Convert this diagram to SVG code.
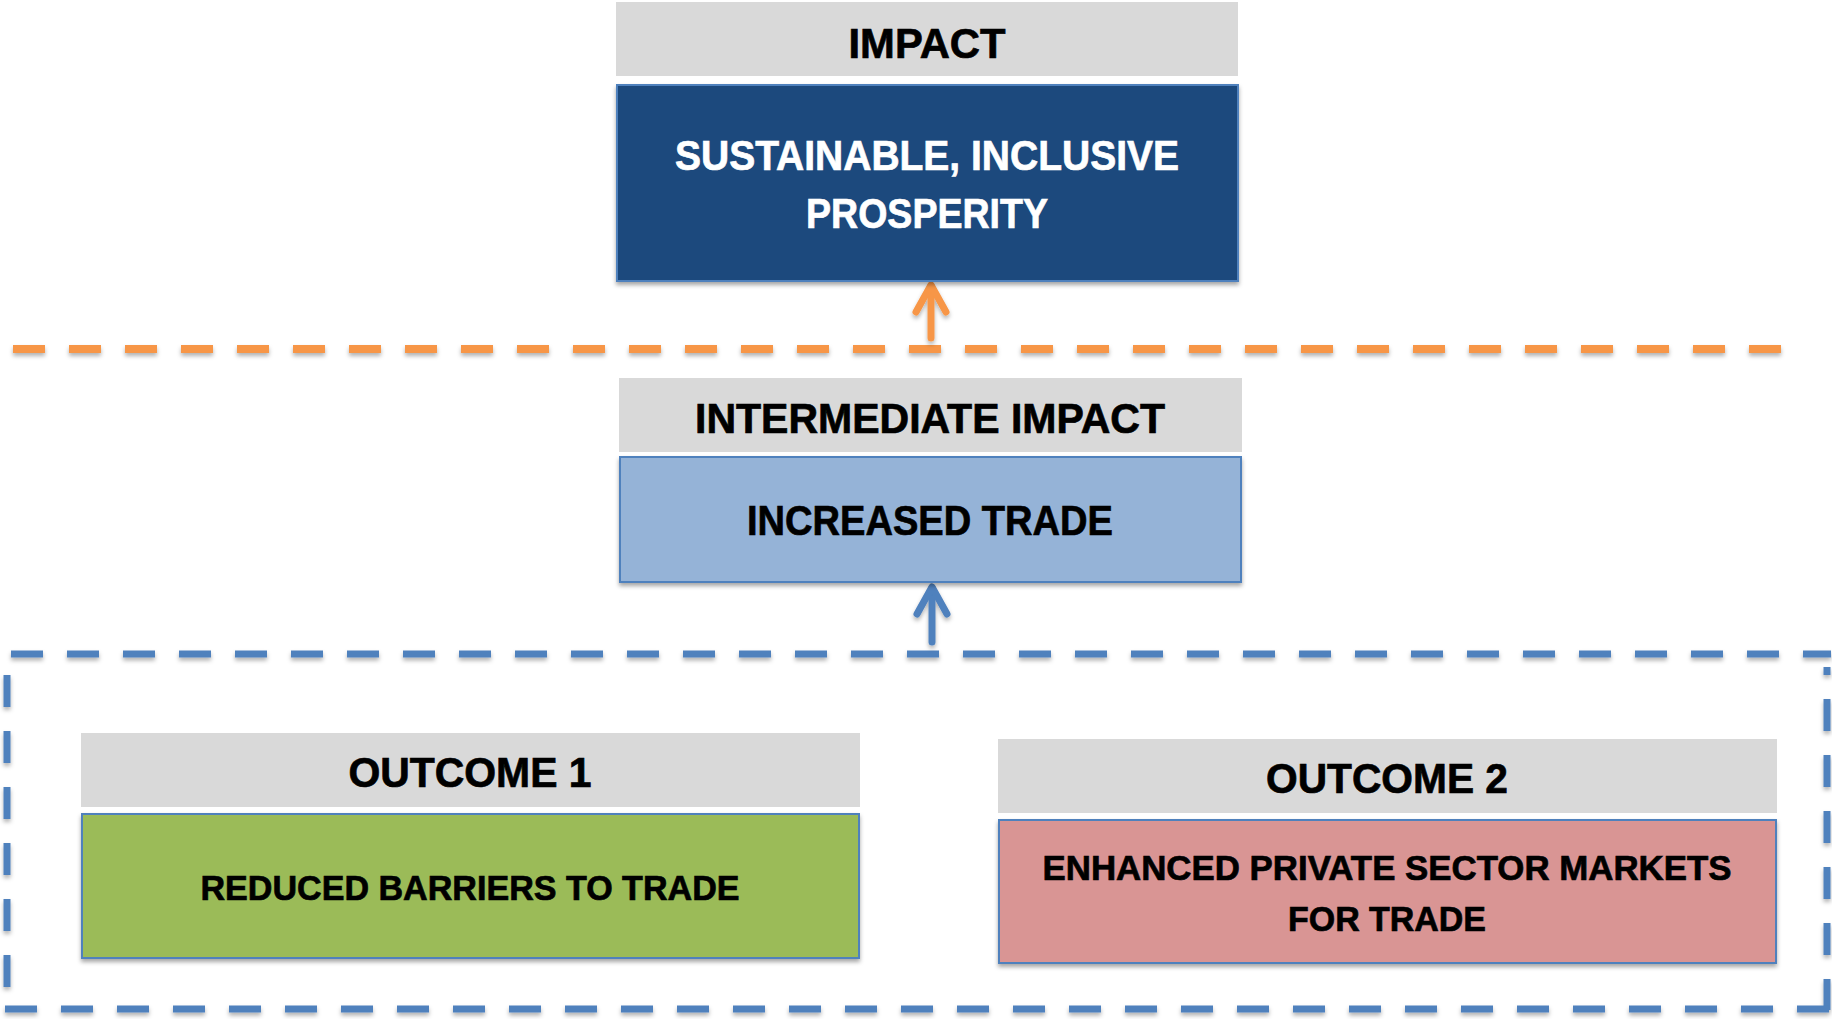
<svg xmlns="http://www.w3.org/2000/svg" width="1832" height="1019" viewBox="0 0 1832 1019">
  <style>
    .hdr { fill: #D9D9D9; }
    .t { font-family: "Liberation Sans", Arial, sans-serif; font-weight: bold; text-anchor: middle; stroke-width: 0.7; }
    .big { font-size: 42px; }
    .small { font-size: 35px; }
    .dk { fill: #000000; stroke: #000000; }
    .wt { fill: #FFFFFF; stroke: #FFFFFF; }
    .box { stroke: #4F81BD; stroke-width: 2; }
    .dashO { stroke: #F79646; stroke-width: 8; stroke-dasharray: 32 24; fill: none; }
    .dashB { stroke: #4F81BD; stroke-width: 7; stroke-dasharray: 32 24; fill: none; }
    .arrO { stroke: #F79646; stroke-width: 7; fill: none; stroke-linecap: round; stroke-linejoin: round; }
    .arrB { stroke: #4F81BD; stroke-width: 7; fill: none; stroke-linecap: round; stroke-linejoin: round; }
  </style>
  <defs>
    <filter id="sh" x="-10%" y="-20%" width="120%" height="150%">
      <feDropShadow dx="0" dy="3" stdDeviation="2" flood-color="#000000" flood-opacity="0.35"/>
    </filter>
    <filter id="shU" filterUnits="userSpaceOnUse" x="0" y="0" width="1832" height="1019">
      <feDropShadow dx="0" dy="3" stdDeviation="2" flood-color="#000000" flood-opacity="0.3"/>
    </filter>
  </defs>
  <rect width="1832" height="1019" fill="#FFFFFF"/>

  <g id="connectors">
    <g id="boundary-orange" filter="url(#shU)">
      <line class="dashO" x1="13" y1="349" x2="1781" y2="349"/>
    </g>
    <g id="boundary-blue" filter="url(#shU)">
      <line class="dashB" x1="11" y1="654" x2="1831" y2="654"/>
      <line class="dashB" x1="7" y1="675" x2="7" y2="1000"/>
      <line class="dashB" x1="1827" y1="667" x2="1827" y2="1010" stroke-dashoffset="24"/>
      <line class="dashB" x1="5" y1="1009" x2="1830" y2="1009"/>
    </g>
    <g id="arrow-orange" filter="url(#shU)">
      <line class="arrO" x1="931" y1="338" x2="931" y2="286"/>
      <polyline class="arrO" points="916,312 931,285 946,312"/>
    </g>
    <g id="arrow-blue" filter="url(#shU)">
      <line class="arrB" x1="932" y1="642" x2="932" y2="588"/>
      <polyline class="arrB" points="917,614 932,587 947,614"/>
    </g>
  </g>

  <g id="impact">
    <rect class="hdr" x="616" y="2" width="622" height="74"/>
    <text class="t big dk" x="927" y="58" textLength="157" lengthAdjust="spacingAndGlyphs">IMPACT</text>
    <rect class="box" x="617" y="85" width="621" height="196" fill="#1F497D" filter="url(#sh)"/>
    <text class="t big wt" x="927" y="170" textLength="504" lengthAdjust="spacingAndGlyphs">SUSTAINABLE, INCLUSIVE</text>
    <text class="t big wt" x="927" y="228" textLength="242" lengthAdjust="spacingAndGlyphs">PROSPERITY</text>
  </g>

  <g id="intermediate">
    <rect class="hdr" x="619" y="378" width="623" height="74"/>
    <text class="t big dk" x="930" y="433" textLength="470" lengthAdjust="spacingAndGlyphs">INTERMEDIATE IMPACT</text>
    <rect class="box" x="620" y="457" width="621" height="125" fill="#95B3D7" filter="url(#sh)"/>
    <text class="t big dk" x="930" y="535" textLength="366" lengthAdjust="spacingAndGlyphs">INCREASED TRADE</text>
  </g>

  <g id="outcome1">
    <rect class="hdr" x="81" y="733" width="779" height="74"/>
    <text class="t big dk" x="470" y="787" textLength="243" lengthAdjust="spacingAndGlyphs">OUTCOME 1</text>
    <rect class="box" x="82" y="814" width="777" height="144" fill="#9BBB59" filter="url(#sh)"/>
    <text class="t small dk" x="470" y="900" textLength="539" lengthAdjust="spacingAndGlyphs">REDUCED BARRIERS TO TRADE</text>
  </g>

  <g id="outcome2">
    <rect class="hdr" x="998" y="739" width="779" height="74"/>
    <text class="t big dk" x="1387" y="793" textLength="242" lengthAdjust="spacingAndGlyphs">OUTCOME 2</text>
    <rect class="box" x="999" y="820" width="777" height="143" fill="#D99594" filter="url(#sh)"/>
    <text class="t small dk" x="1387" y="880" textLength="689" lengthAdjust="spacingAndGlyphs">ENHANCED PRIVATE SECTOR MARKETS</text>
    <text class="t small dk" x="1387" y="931" textLength="198" lengthAdjust="spacingAndGlyphs">FOR TRADE</text>
  </g>
</svg>
